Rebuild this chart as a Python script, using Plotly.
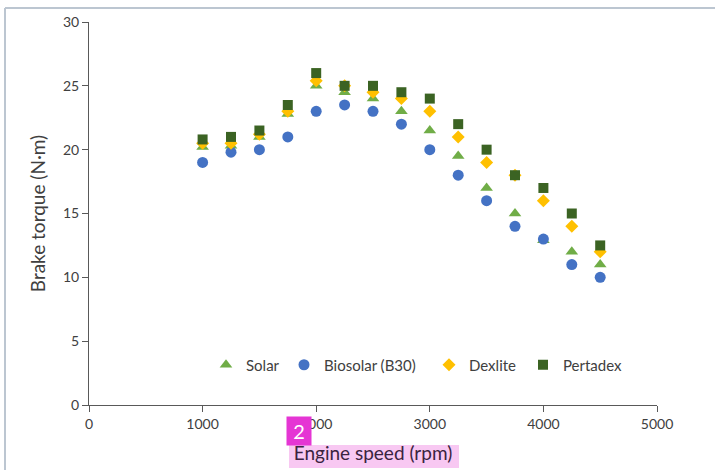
import plotly.graph_objects as go

speed = [1000, 1250, 1500, 1750, 2000, 2250, 2500, 2750, 3000, 3250, 3500, 3750, 4000, 4250, 4500]
solar = [20.2, 20.3, 21.0, 22.8, 25.0, 24.5, 24.0, 23.0, 21.5, 19.5, 17.0, 15.0, 12.9, 12.0, 11.0]
biosolar = [19.0, 19.8, 20.0, 21.0, 23.0, 23.5, 23.0, 22.0, 20.0, 18.0, 16.0, 14.0, 13.0, 11.0, 10.0]
dexlite = [20.5, 20.5, 21.2, 23.0, 25.4, 25.0, 24.5, 24.0, 23.0, 21.0, 19.0, 18.0, 16.0, 14.0, 12.0]
pertadex = [20.8, 21.0, 21.5, 23.5, 26.0, 25.0, 25.0, 24.5, 24.0, 22.0, 20.0, 18.0, 17.0, 15.0, 12.5]

series = [
    ("Solar", solar, "triangle-up", "#70AD47", 11),
    ("Biosolar (B30)", biosolar, "circle", "#4472C4", 11),
    ("Dexlite", dexlite, "diamond", "#FFC000", 10),
    ("Pertadex", pertadex, "square", "#3B6323", 10),
]

FONT = "Lato"
L, R, T, B = 89, 58, 22, 65
W, H = 715, 470
pw, ph = W - L - R, H - T - B

def px_x(p):
    return (p - L) / pw

def px_y(p):
    return (H - B - p) / ph

legend_names = ["legend", "legend2", "legend3", "legend4"]
legend_marker_px = [230, 308, 453, 547]

fig = go.Figure()
for (name, vals, sym, col, sz), lg in zip(series, legend_names):
    fig.add_trace(go.Scatter(
        x=speed, y=vals, mode="markers", name=name, legend=lg,
        marker=dict(symbol=sym, color=col, size=sz, line=dict(width=0)),
    ))

legend_style = {}
for lg, mx in zip(legend_names, legend_marker_px):
    legend_style[lg] = dict(
        orientation="h", x=px_x(mx - 24), y=px_y(365), xanchor="left", yanchor="middle",
        font=dict(family=FONT, size=15, color="#404040"), bgcolor="rgba(0,0,0,0)", itemwidth=30,
    )

fig.update_layout(
    width=W, height=H,
    margin=dict(l=L, r=R, t=T, b=B, autoexpand=False),
    paper_bgcolor="white", plot_bgcolor="white",
    font=dict(family=FONT, size=14, color="#404040"),
    showlegend=True,
    xaxis=dict(range=[0, 5000], tickvals=[0, 1000, 2000, 3000, 4000, 5000], automargin=False,
               showgrid=False, zeroline=False, showline=True, linecolor="#595959", linewidth=1,
               ticks="outside", ticklen=6, tickcolor="#595959",
               tickfont=dict(family=FONT, size=14, color="#404040"),
               title=dict(text="Engine speed (rpm)", font=dict(family=FONT, size=19, color="#3a2340"), standoff=15)),
    yaxis=dict(range=[0, 30], tickvals=[0, 5, 10, 15, 20, 25, 30], automargin=False,
               showgrid=False, zeroline=False, showline=True, linecolor="#595959", linewidth=1,
               ticks="outside", ticklen=6, tickcolor="#595959",
               tickfont=dict(family=FONT, size=14, color="#404040"),
               title=dict(text="Brake torque (N·m)", font=dict(family=FONT, size=19, color="#404040"), standoff=12)),
    **legend_style,
)

# page frame
fig.add_shape(type="line", xref="paper", yref="paper", x0=px_x(5), x1=px_x(715), y0=px_y(8), y1=px_y(8),
              line=dict(color="#bcc6d1", width=2))
fig.add_shape(type="line", xref="paper", yref="paper", x0=px_x(5), x1=px_x(5), y0=px_y(8), y1=px_y(470),
              line=dict(color="#bcc6d1", width=2))
# highlight behind x title
fig.add_shape(type="rect", xref="paper", yref="paper", x0=px_x(289), x1=px_x(459), y0=px_y(468), y1=px_y(445),
              fillcolor="#f8c8f2", line=dict(width=0), layer="below")
# comment marker
fig.add_annotation(xref="paper", yref="paper", x=px_x(299), y=px_y(431), text="2", showarrow=False,
                   xanchor="center", yanchor="middle", width=22, height=26, bgcolor="#e535d4",
                   font=dict(family=FONT, size=20, color="white"))

fig.write_html("out.html")
